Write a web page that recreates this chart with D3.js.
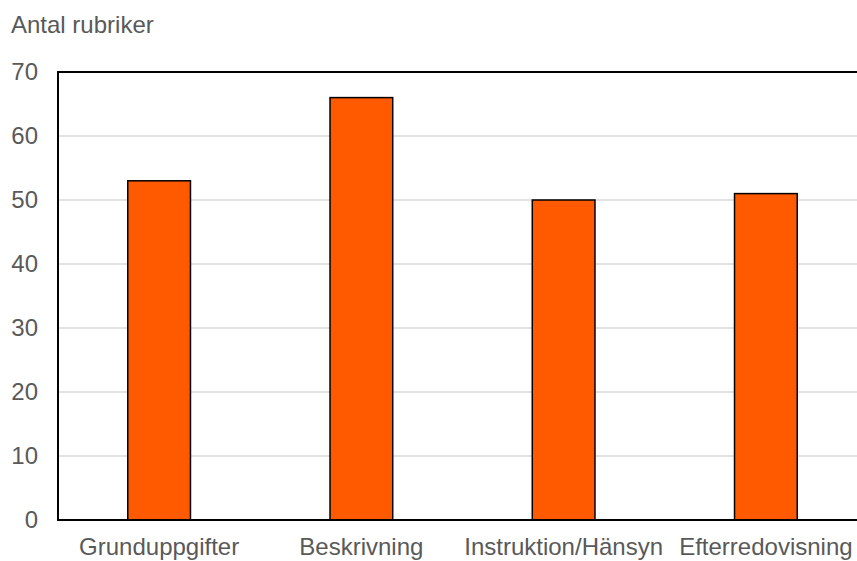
<!DOCTYPE html>
<html><head><meta charset="utf-8">
<script src="https://cdn.jsdelivr.net/npm/d3@7"></script>
<style>body{margin:0;background:#fff}svg{display:block}</style>
</head><body>
<script>
const categories = ["Grunduppgifter","Beskrivning","Instruktion/Hänsyn","Efterredovisning"];
const values = [53, 66, 50, 51];
const yTicks = [0,10,20,30,40,50,60,70];
const yTitle = "Antal rubriker";

const W = 857, H = 561;
const svg = d3.select("body").append("svg").attr("width", W).attr("height", H);
const mLeft = 58, mRight = 867, mTop = 72, mBottom = 520;
const x = d3.scaleBand().domain(categories).range([mLeft, mRight]).paddingInner(0.69).paddingOuter(0.345);
const y = d3.scaleLinear().domain([0,70]).range([mBottom, mTop]);
const font = "'Liberation Sans', Arial, sans-serif";

svg.append("g").selectAll("line").data(yTicks.filter(d => d>0 && d<70)).join("line")
  .attr("x1", mLeft).attr("x2", W).attr("y1", d=>y(d)).attr("y2", d=>y(d))
  .attr("stroke", "#d9d9d9").attr("stroke-width", 1.5);

svg.append("g").selectAll("rect").data(values).join("rect")
  .attr("x", (d,i)=>x(categories[i])).attr("width", x.bandwidth())
  .attr("y", d=>y(d)).attr("height", d=>mBottom - y(d))
  .attr("fill", "#ff5a00").attr("stroke", "#000").attr("stroke-width", 1.5);

// frame
svg.append("path").attr("d", `M${W+2},${mTop}H${mLeft}V${mBottom}H${W+2}`)
  .attr("fill","none").attr("stroke","#000").attr("stroke-width",2);

const yAxis = svg.append("g").attr("transform", `translate(${mLeft},0)`)
  .call(d3.axisLeft(y).tickValues(yTicks).tickSize(0).tickPadding(20));
yAxis.select(".domain").remove();
yAxis.selectAll("text").attr("font-family", font).attr("font-size", 24).attr("fill", "#595959");

const xAxis = svg.append("g").attr("transform", `translate(0,${mBottom})`)
  .call(d3.axisBottom(x).tickSize(0).tickPadding(18));
xAxis.select(".domain").remove();
xAxis.selectAll("text").attr("font-family", font).attr("font-size", 24).attr("fill", "#595959");

svg.append("text").attr("x", 11).attr("y", 33).text(yTitle)
  .attr("font-family", font).attr("font-size", 24).attr("fill", "#595959");
</script>
</body></html>
